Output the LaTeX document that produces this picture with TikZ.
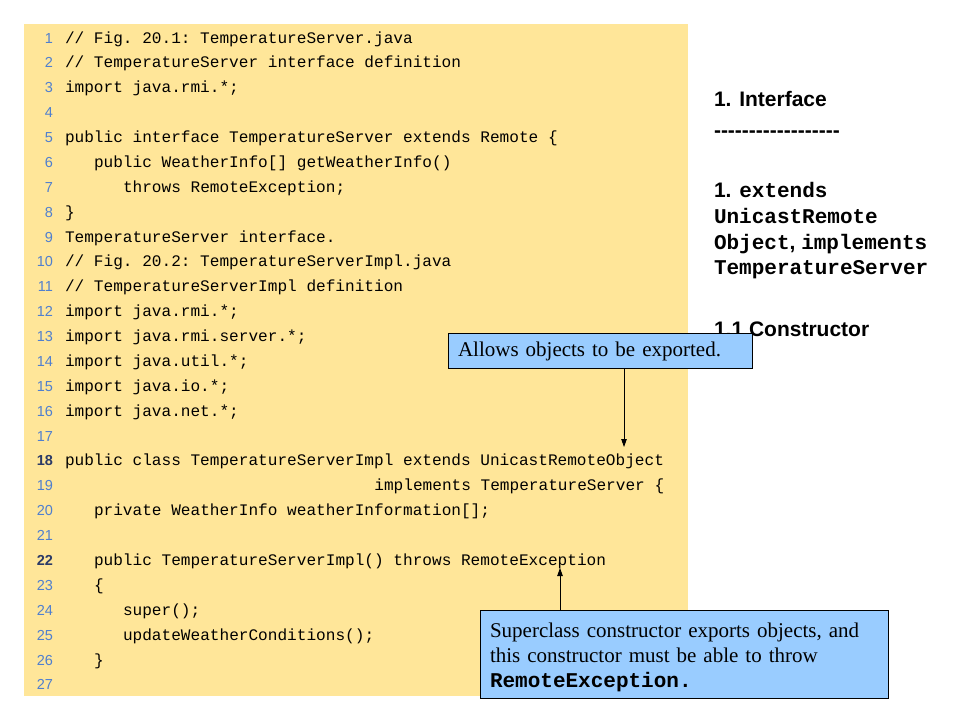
\documentclass[tikz,border=0pt]{standalone}
\usepackage{fontspec}
\setmainfont{Liberation Serif}
\setsansfont{Liberation Sans}
\setmonofont{Liberation Mono}
\usetikzlibrary{calc}
\usetikzlibrary{arrows.meta}
\definecolor{codebg}{HTML}{FFE699}
\definecolor{calloutbg}{HTML}{99CCFF}
\definecolor{numblue}{HTML}{4F7FCF}
\definecolor{numdark}{HTML}{2B3A67}

\begin{document}
\begin{tikzpicture}[x=1pt, y=-1pt,
    every node/.append style={inner sep=0pt, outer sep=0pt},
    lineno/.style={anchor=base east, text=numblue, font=\fontsize{14.5}{17}\sffamily},
    code/.style={anchor=base west, font=\fontsize{16.1}{19}\ttfamily},
    note/.style={anchor=base west, font=\fontsize{21}{25.7}\bfseries\sffamily},
    callout/.style={draw, fill=calloutbg, line width=0.8pt, anchor=north west, inner xsep=10pt, align=left, font=\fontsize{21}{25}\selectfont},
    callarrow/.style={-{Triangle[length=8pt, width=5.5pt]}, line width=0.8pt}]
    \useasboundingbox (0,0) rectangle (960,720);
    \fill[codebg] (24,24) rectangle (688,696);
    % line numbers
    \foreach \k in {1,...,17,19,20,21,23,24,25,26,27}
      \node[lineno] (n\k) at (53, {43+(\k-1)*24.88}) {\k};
    \foreach \k in {18,22}
      \node[lineno, text=numdark, font=\fontsize{14.5}{17}\bfseries\sffamily] (n\k) at (53, {43+(\k-1)*24.88}) {\k};
    % code
    \node[code] (c1) at ([xshift=12pt]n1.base east) {// Fig. 20.1: TemperatureServer.java};
    \node[code] (c2) at ([xshift=12pt]n2.base east) {// TemperatureServer interface definition};
    \node[code] (c3) at ([xshift=12pt]n3.base east) {import java.rmi.*;};
    \node[code] (c5) at ([xshift=12pt]n5.base east) {public interface TemperatureServer extends Remote \{};
    \node[code] (c6) at ([xshift=41pt]n6.base east) {public WeatherInfo[] getWeatherInfo()};
    \node[code] (c7) at ([xshift=70pt]n7.base east) {throws RemoteException;};
    \node[code] (c8) at ([xshift=12pt]n8.base east) {\}};
    \node[code] (c9) at ([xshift=12pt]n9.base east) {TemperatureServer interface.};
    \node[code] (c10) at ([xshift=12pt]n10.base east) {// Fig. 20.2: TemperatureServerImpl.java};
    \node[code] (c11) at ([xshift=12pt]n11.base east) {// TemperatureServerImpl definition};
    \node[code] (c12) at ([xshift=12pt]n12.base east) {import java.rmi.*;};
    \node[code] (c13) at ([xshift=12pt]n13.base east) {import java.rmi.server.*;};
    \node[code] (c14) at ([xshift=12pt]n14.base east) {import java.util.*;};
    \node[code] (c15) at ([xshift=12pt]n15.base east) {import java.io.*;};
    \node[code] (c16) at ([xshift=12pt]n16.base east) {import java.net.*;};
    \node[code] (c18) at ([xshift=12pt]n18.base east) {public class TemperatureServerImpl extends UnicastRemoteObject};
    \node[code] (c19) at ([xshift=321.4pt]n19.base east) {implements TemperatureServer \{};
    \node[code] (c20) at ([xshift=41pt]n20.base east) {private WeatherInfo weatherInformation[];};
    \node[code] (c22) at ([xshift=41pt]n22.base east) {public TemperatureServerImpl() throws RemoteException};
    \node[code] (c23) at ([xshift=41pt]n23.base east) {\{};
    \node[code] (c24) at ([xshift=70pt]n24.base east) {super();};
    \node[code] (c25) at ([xshift=70pt]n25.base east) {updateWeatherConditions();};
    \node[code] (c26) at ([xshift=41pt]n26.base east) {\}};
    % notes on the right
    \node[note] (intf) at (714, 106) {1. Interface};
    \node[note] (rule) at (714, 137) {\foreach \i in {1,...,18}{-\kern0pt}};
    \node[note] (ext1) at (714, 197) {1. {\ttfamily extends}};
    \node[note] (ext2) at (714, 223) {\ttfamily UnicastRemote};
    \node[note] (ext3) at (714, 249) {{\ttfamily Object}, {\ttfamily implements}};
    \node[note] (ext4) at (714, 274) {\ttfamily TemperatureServer};
    \node[note] (ctor) at (714, 336) {1.1 Constructor};
    % callouts
    \node[callout, text width=284pt, minimum height=35pt] (allow) at (448, 333) {\rule{0pt}{17pt}Allows objects to be exported.};
    \node[callout, text width=388pt, minimum height=88pt] (super) at (480, 610)
      {\rule{0pt}{20.5pt}Superclass constructor exports objects, and\\ this constructor must be able to throw\\ {\ttfamily\bfseries RemoteException.}};
    \coordinate (exp) at (624, 447);
    \coordinate (thr) at (560, 568);
    \draw[callarrow] (exp |- allow.south) -- (exp);
    \draw[callarrow] (thr |- super.north) -- (thr);
  \end{tikzpicture}
\end{document}
